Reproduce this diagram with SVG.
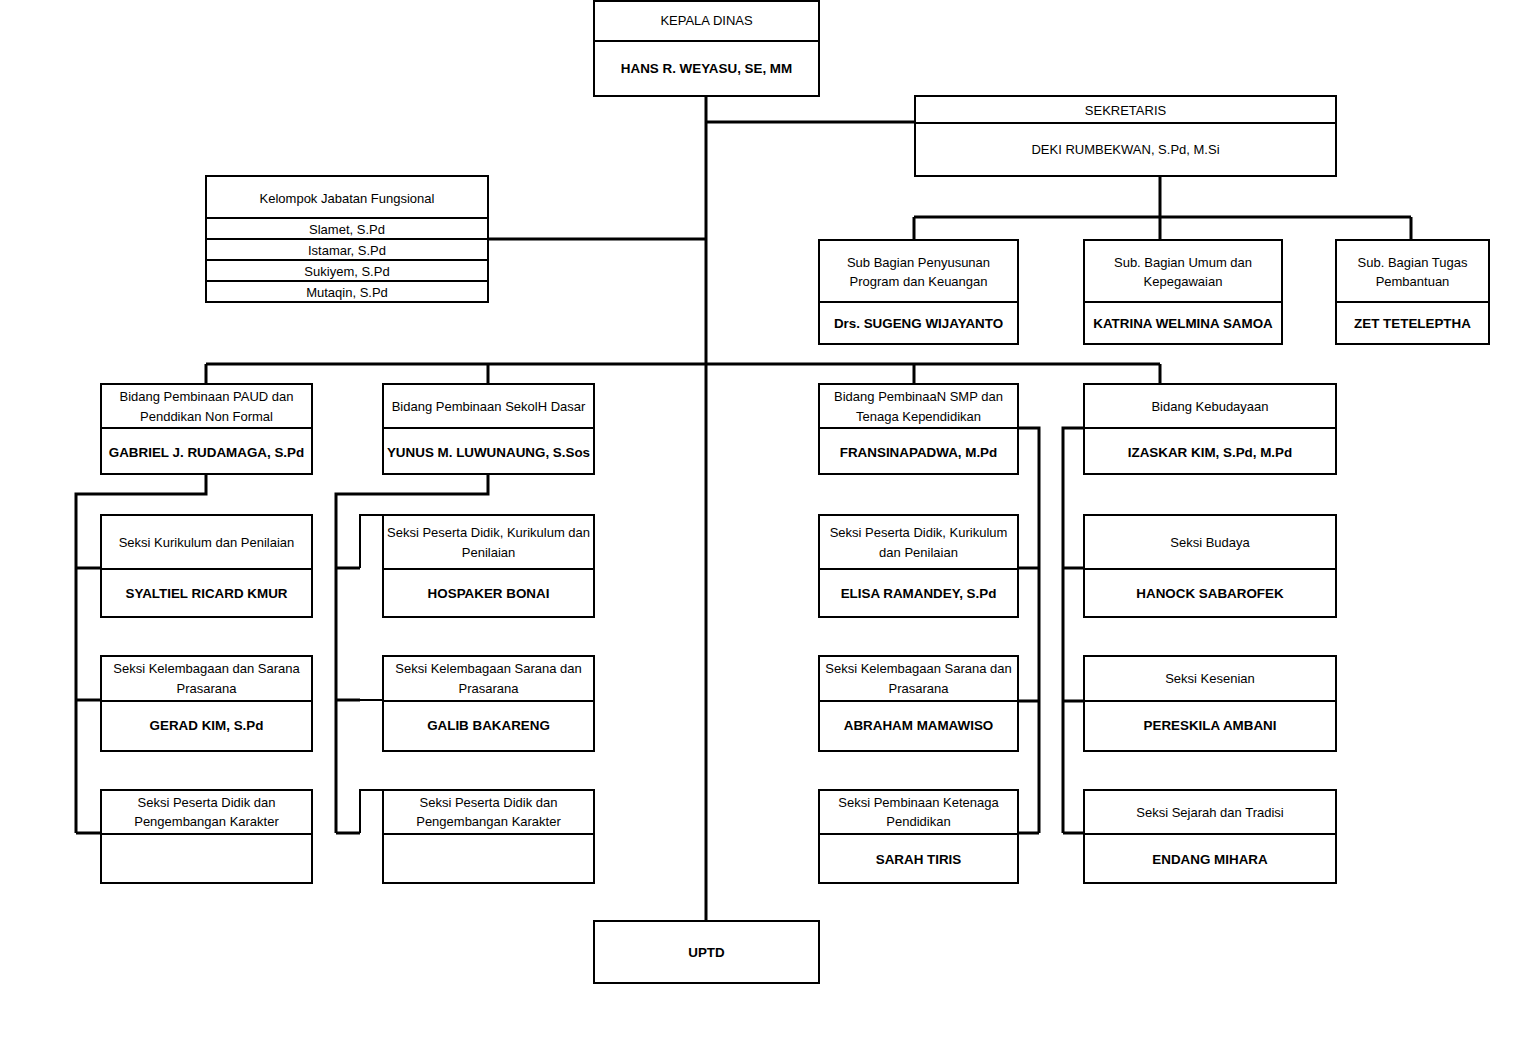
<svg xmlns="http://www.w3.org/2000/svg" width="1526" height="1043" viewBox="0 0 1526 1043">
<style>
.box{fill:#fff;stroke:#000;stroke-width:2}
.div{stroke:#000;stroke-width:2;fill:none}
.con{stroke:#000;stroke-width:3;fill:none}
.thin{stroke:#000;stroke-width:2;fill:none}
text{font-family:"Liberation Sans",Arial,sans-serif;font-size:13px;fill:#000;text-anchor:middle}
.b{font-weight:bold;font-size:13.4px}
</style>
<rect width="1526" height="1043" fill="#fff"/>
<g id="connectors">
<path class="con" d="M706,96V921"/>
<path class="con" d="M706,122H915"/>
<path class="con" d="M488,239H706"/>
<path class="con" d="M1160,176V217M914,217H1411M914,217V240M1160,217V240M1411,217V240"/>
<path class="con" d="M206,364H1160M206,364V384M488,364V384M914,364V384M1160,364V384"/>
<path class="con" d="M206,474V494H76V833M76,568H101M76,700H101M76,833H101"/>
<path class="con" d="M488,474V494H336V833M336,568H360M336,700H360M336,833H360"/>
<path class="thin" d="M360,568V515H383M360,700H383M360,833V790H383"/>
<path class="con" d="M1018,428H1039V833M1018,568H1039M1018,701H1039M1018,833H1039"/>
<path class="con" d="M1084,428H1063V833M1084,568H1063M1084,701H1063M1084,833H1063"/>
</g>
<g id="kepala-dinas">
<rect class="box" x="594" y="1" width="225" height="95"/>
<path class="div" d="M594,41H819"/>
<text x="706.5" y="25">KEPALA DINAS</text>
<text class="b" x="706.5" y="73">HANS R. WEYASU, SE, MM</text>
</g>
<g id="sekretaris">
<rect class="box" x="915" y="96" width="421" height="80"/>
<path class="div" d="M915,123H1336"/>
<text x="1125.5" y="115">SEKRETARIS</text>
<text x="1125.5" y="154">DEKI RUMBEKWAN, S.Pd, M.Si</text>
</g>
<g id="kelompok-jabatan-fungsional">
<rect class="box" x="206" y="176" width="282" height="126"/>
<path class="div" d="M206,218H488M206,239H488M206,260H488M206,281H488"/>
<text x="347" y="203">Kelompok Jabatan Fungsional</text>
<text x="347" y="234">Slamet, S.Pd</text>
<text x="347" y="255">Istamar, S.Pd</text>
<text x="347" y="276">Sukiyem, S.Pd</text>
<text x="347" y="297">Mutaqin, S.Pd</text>
</g>
<g id="subbag-penyusunan">
<rect class="box" x="819" y="240" width="199" height="104"/>
<path class="div" d="M819,302H1018"/>
<text x="918.5" y="267">Sub Bagian Penyusunan</text>
<text x="918.5" y="286">Program dan Keuangan</text>
<text class="b" x="918.5" y="328">Drs. SUGENG WIJAYANTO</text>
</g>
<g id="subbag-umum">
<rect class="box" x="1084" y="240" width="198" height="104"/>
<path class="div" d="M1084,302H1282"/>
<text x="1183" y="267">Sub. Bagian Umum dan</text>
<text x="1183" y="286">Kepegawaian</text>
<text class="b" x="1183" y="328">KATRINA WELMINA SAMOA</text>
</g>
<g id="subbag-tugas">
<rect class="box" x="1336" y="240" width="153" height="104"/>
<path class="div" d="M1336,302H1489"/>
<text x="1412.5" y="267">Sub. Bagian Tugas</text>
<text x="1412.5" y="286">Pembantuan</text>
<text class="b" x="1412.5" y="328">ZET TETELEPTHA</text>
</g>
<g id="bidang-paud">
<rect class="box" x="101" y="384" width="211" height="90"/>
<path class="div" d="M101,428H312"/>
<text x="206.5" y="401">Bidang Pembinaan PAUD dan</text>
<text x="206.5" y="421">Penddikan Non Formal</text>
<text class="b" x="206.5" y="457">GABRIEL J. RUDAMAGA, S.Pd</text>
</g>
<g id="bidang-sd">
<rect class="box" x="383" y="384" width="211" height="90"/>
<path class="div" d="M383,428H594"/>
<text x="488.5" y="411">Bidang Pembinaan SekolH Dasar</text>
<text class="b" x="488.5" y="457">YUNUS M. LUWUNAUNG, S.Sos</text>
</g>
<g id="bidang-smp">
<rect class="box" x="819" y="384" width="199" height="90"/>
<path class="div" d="M819,428H1018"/>
<text x="918.5" y="401">Bidang PembinaaN SMP dan</text>
<text x="918.5" y="421">Tenaga Kependidikan</text>
<text class="b" x="918.5" y="457">FRANSINAPADWA, M.Pd</text>
</g>
<g id="bidang-kebudayaan">
<rect class="box" x="1084" y="384" width="252" height="90"/>
<path class="div" d="M1084,428H1336"/>
<text x="1210" y="411">Bidang Kebudayaan</text>
<text class="b" x="1210" y="457">IZASKAR KIM, S.Pd, M.Pd</text>
</g>
<g id="seksi-paud-1">
<rect class="box" x="101" y="515" width="211" height="102"/>
<path class="div" d="M101,569H312"/>
<text x="206.5" y="547">Seksi Kurikulum dan Penilaian</text>
<text class="b" x="206.5" y="598">SYALTIEL RICARD KMUR</text>
</g>
<g id="seksi-paud-2">
<rect class="box" x="101" y="656" width="211" height="95"/>
<path class="div" d="M101,701H312"/>
<text x="206.5" y="673">Seksi Kelembagaan dan Sarana</text>
<text x="206.5" y="693">Prasarana</text>
<text class="b" x="206.5" y="730">GERAD KIM, S.Pd</text>
</g>
<g id="seksi-paud-3">
<rect class="box" x="101" y="790" width="211" height="93"/>
<path class="div" d="M101,834H312"/>
<text x="206.5" y="807">Seksi Peserta Didik dan</text>
<text x="206.5" y="826">Pengembangan Karakter</text>
</g>
<g id="seksi-sd-1">
<rect class="box" x="383" y="515" width="211" height="102"/>
<path class="div" d="M383,569H594"/>
<text x="488.5" y="537">Seksi Peserta Didik, Kurikulum dan</text>
<text x="488.5" y="557">Penilaian</text>
<text class="b" x="488.5" y="598">HOSPAKER BONAI</text>
</g>
<g id="seksi-sd-2">
<rect class="box" x="383" y="656" width="211" height="95"/>
<path class="div" d="M383,701H594"/>
<text x="488.5" y="673">Seksi Kelembagaan Sarana dan</text>
<text x="488.5" y="693">Prasarana</text>
<text class="b" x="488.5" y="730">GALIB BAKARENG</text>
</g>
<g id="seksi-sd-3">
<rect class="box" x="383" y="790" width="211" height="93"/>
<path class="div" d="M383,834H594"/>
<text x="488.5" y="807">Seksi Peserta Didik dan</text>
<text x="488.5" y="826">Pengembangan Karakter</text>
</g>
<g id="seksi-smp-1">
<rect class="box" x="819" y="515" width="199" height="102"/>
<path class="div" d="M819,569H1018"/>
<text x="918.5" y="537">Seksi Peserta Didik, Kurikulum</text>
<text x="918.5" y="557">dan Penilaian</text>
<text class="b" x="918.5" y="598">ELISA RAMANDEY, S.Pd</text>
</g>
<g id="seksi-smp-2">
<rect class="box" x="819" y="656" width="199" height="95"/>
<path class="div" d="M819,701H1018"/>
<text x="918.5" y="673">Seksi Kelembagaan Sarana dan</text>
<text x="918.5" y="693">Prasarana</text>
<text class="b" x="918.5" y="730">ABRAHAM MAMAWISO</text>
</g>
<g id="seksi-smp-3">
<rect class="box" x="819" y="790" width="199" height="93"/>
<path class="div" d="M819,834H1018"/>
<text x="918.5" y="807">Seksi Pembinaan Ketenaga</text>
<text x="918.5" y="826">Pendidikan</text>
<text class="b" x="918.5" y="864">SARAH TIRIS</text>
</g>
<g id="seksi-budaya">
<rect class="box" x="1084" y="515" width="252" height="102"/>
<path class="div" d="M1084,569H1336"/>
<text x="1210" y="547">Seksi Budaya</text>
<text class="b" x="1210" y="598">HANOCK SABAROFEK</text>
</g>
<g id="seksi-kesenian">
<rect class="box" x="1084" y="656" width="252" height="95"/>
<path class="div" d="M1084,701H1336"/>
<text x="1210" y="683">Seksi Kesenian</text>
<text class="b" x="1210" y="730">PERESKILA AMBANI</text>
</g>
<g id="seksi-sejarah">
<rect class="box" x="1084" y="790" width="252" height="93"/>
<path class="div" d="M1084,834H1336"/>
<text x="1210" y="817">Seksi Sejarah dan Tradisi</text>
<text class="b" x="1210" y="864">ENDANG MIHARA</text>
</g>
<g id="uptd">
<rect class="box" x="594" y="921" width="225" height="62"/>
<text class="b" x="706.5" y="957">UPTD</text>
</g>
</svg>
